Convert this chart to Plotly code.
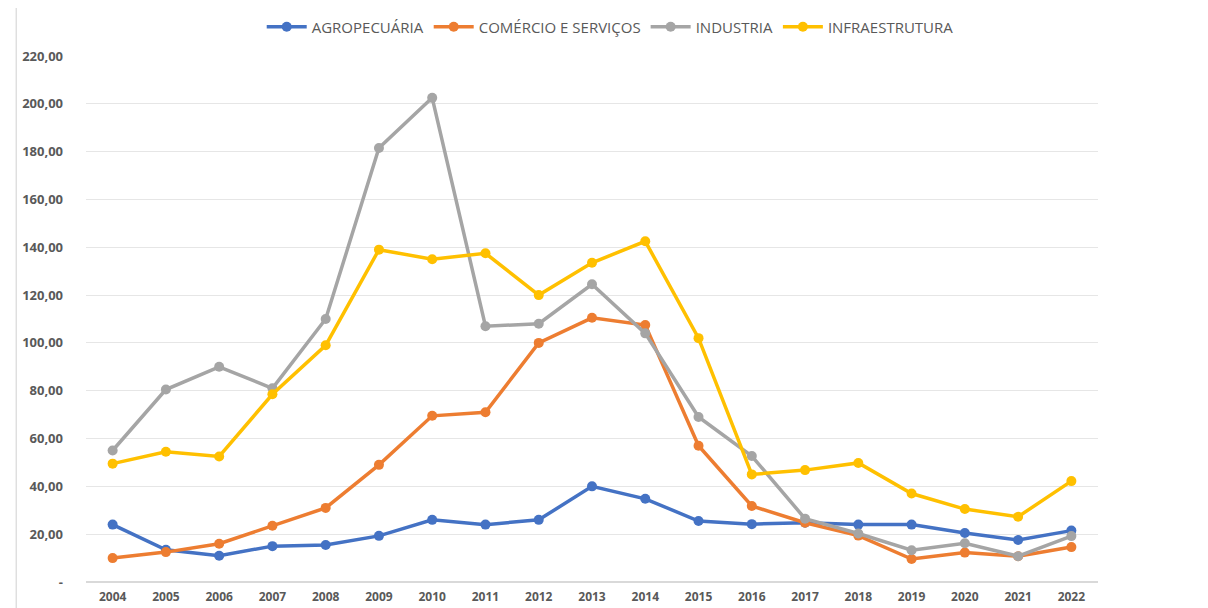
import plotly.graph_objects as go

# data
years = [str(y) for y in range(2004, 2023)]

agropecuaria = [24.0, 13.5, 11.0, 15.0, 15.5, 19.3, 26.0, 24.0, 26.0, 40.0,
                34.8, 25.5, 24.2, 24.8, 24.0, 24.0, 20.5, 17.6, 21.5]
comercio_servicos = [10.0, 12.5, 16.0, 23.5, 31.0, 49.0, 69.5, 71.0, 100.0, 110.5,
                     107.5, 57.0, 31.8, 24.8, 19.4, 9.6, 12.3, 10.8, 14.6]
industria = [55.0, 80.5, 90.0, 81.0, 110.0, 181.5, 202.5, 107.0, 108.0, 124.5,
             104.0, 69.0, 52.7, 26.5, 20.3, 13.3, 16.2, 10.8, 19.2]
infraestrutura = [49.5, 54.5, 52.5, 78.5, 99.0, 139.0, 135.0, 137.5, 120.0, 133.5,
                  142.5, 102.0, 45.0, 46.8, 49.8, 37.0, 30.5, 27.3, 42.2]

series_names = ["AGROPECUÁRIA", "COMÉRCIO E SERVIÇOS", "INDUSTRIA", "INFRAESTRUTURA"]
series_colors = ["#4472C4", "#ED7D31", "#A5A5A5", "#FFC000"]

y_tickvals = list(range(0, 221, 20))
y_ticktext = ["-"] + [f"{v},00" for v in y_tickvals[1:]]

fig = go.Figure()

for name, values, color in zip(series_names,
                               [agropecuaria, comercio_servicos, industria, infraestrutura],
                               series_colors):
    fig.add_trace(go.Scatter(
        x=years,
        y=values,
        mode="lines+markers",
        name=name,
        line=dict(color=color, width=3.5),
        marker=dict(color=color, size=10),
    ))

fig.update_layout(
    width=1208,
    height=608,
    plot_bgcolor="white",
    paper_bgcolor="white",
    margin=dict(l=78, r=118, t=48, b=34, autoexpand=False),
    font=dict(family="Open Sans, Liberation Sans, sans-serif", color="#595959"),
    showlegend=True,
    legend=dict(
        orientation="h",
        x=0.518, xanchor="center",
        y=1.055, yanchor="middle",
        font=dict(size=15, color="#595959"),
        itemwidth=40,
    ),
    xaxis=dict(
        type="category",
        range=[-0.5, 18.5],
        showgrid=False,
        showline=False,
        zeroline=False,
        ticks="",
        automargin=False,
        ticklabelstandoff=6,
        tickfont=dict(size=12, color="#595959", weight="bold"),
    ),
    yaxis=dict(
        range=[0, 220],
        tickvals=y_tickvals,
        ticktext=y_ticktext,
        showgrid=True,
        gridcolor="#E6E6E6",
        gridwidth=1,
        zeroline=True,
        zerolinecolor="#D9D9D9",
        zerolinewidth=1.5,
        showline=False,
        ticks="",
        automargin=False,
        ticklabelstandoff=22,
        tickfont=dict(size=13, color="#595959", weight="bold"),
    ),
    shapes=[dict(type="line", xref="paper", yref="paper",
                 x0=-0.069, x1=-0.069, y0=-0.07, y1=1.1,
                 line=dict(color="#D0D0D0", width=1))],
)

fig.write_html("out.html")
